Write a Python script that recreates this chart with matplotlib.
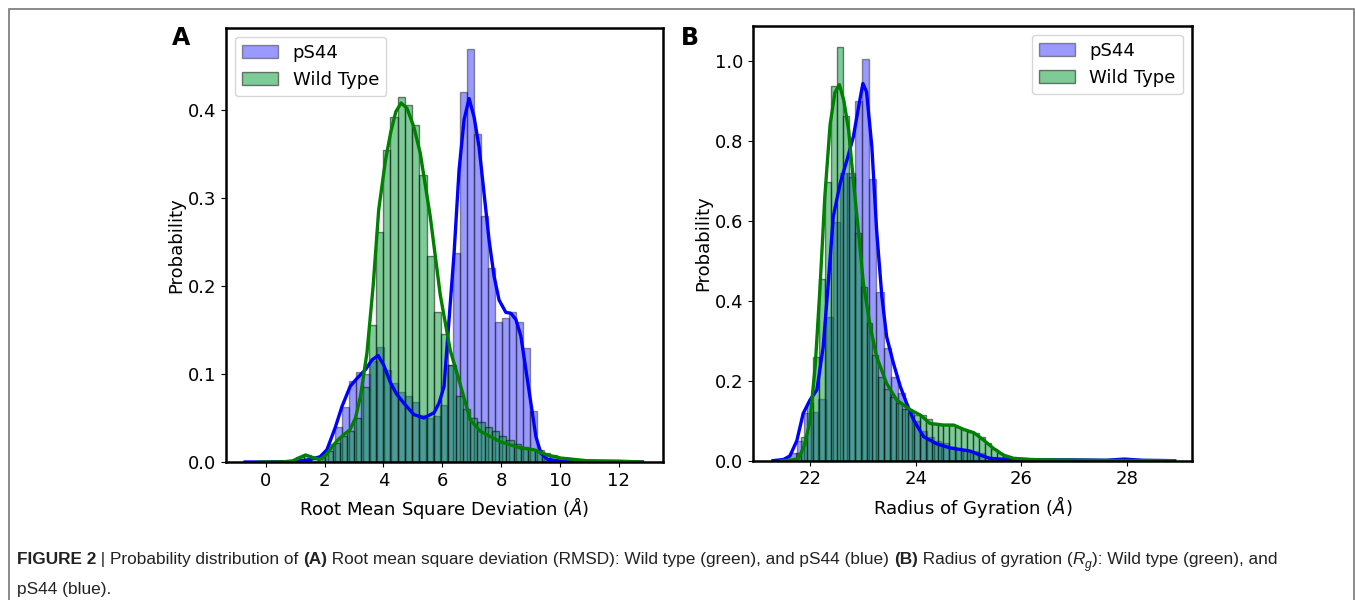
import numpy as np
import matplotlib
matplotlib.use("Agg")
import matplotlib.pyplot as plt
from matplotlib.patches import Rectangle
from matplotlib.text import Annotation

# ---- Panel A: RMSD histograms (density) ----
rmsd_ps44_start, rmsd_ps44_width = 1.896, 0.236
rmsd_ps44_hist = [0.010, 0.020, 0.040, 0.062, 0.092, 0.102, 0.100, 0.115, 0.131, 0.105,
                  0.090, 0.080, 0.075, 0.068, 0.053, 0.050, 0.052, 0.065, 0.110, 0.238,
                  0.420, 0.469, 0.373, 0.279, 0.220, 0.159, 0.164, 0.171, 0.159, 0.129,
                  0.058, 0.014, 0.004, 0.002]
rmsd_wt_start, rmsd_wt_width = 1.04, 0.246
rmsd_wt_hist = [0.006, 0.008, 0.004, 0.005, 0.012, 0.022, 0.030, 0.035, 0.050, 0.085,
                0.156, 0.261, 0.355, 0.392, 0.415, 0.406, 0.383, 0.326, 0.234, 0.170,
                0.145, 0.110, 0.075, 0.060, 0.050, 0.045, 0.040, 0.035, 0.030, 0.025,
                0.020, 0.017, 0.015, 0.014, 0.010, 0.008, 0.005, 0.004, 0.003, 0.002,
                0.0015, 0.001]

# KDE curves
rmsd_ps44_kde_x = [-0.7, 0.0, 0.8, 1.4, 1.85, 2.08, 2.36, 2.59, 2.87, 3.10, 3.39, 3.61, 3.82,
                   4.01, 4.24, 4.45, 4.69, 5.03, 5.375, 5.72, 5.89, 6.06, 6.23, 6.40, 6.57,
                   6.74, 6.91, 7.08, 7.25, 7.42, 7.59, 7.76, 7.93, 8.16, 8.33, 8.50, 8.67,
                   8.84, 9.01, 9.18, 9.35, 9.58, 10.0, 11.0, 12.8]
rmsd_ps44_kde_y = [0, 0, 0.0005, 0.002, 0.006, 0.014, 0.039, 0.063, 0.086, 0.095, 0.105, 0.116,
                   0.121, 0.110, 0.090, 0.077, 0.067, 0.054, 0.050, 0.056, 0.067, 0.086, 0.162,
                   0.237, 0.332, 0.389, 0.413, 0.392, 0.358, 0.305, 0.252, 0.211, 0.184,
                   0.170, 0.169, 0.162, 0.143, 0.105, 0.067, 0.029, 0.010, 0.003, 0.001,
                   0.0005, 0]
rmsd_wt_kde_x = [-0.2, 0.5, 0.9, 1.15, 1.35, 1.6, 1.85, 2.05, 2.25, 2.45, 2.65, 2.87, 3.05,
                 3.22, 3.44, 3.65, 3.84, 4.07, 4.25, 4.42, 4.6, 4.8, 5.03, 5.25, 5.59, 5.93,
                 6.27, 6.61, 6.95, 7.29, 7.97, 8.65, 9.1, 9.56, 10.02, 10.9, 12.0, 12.8]
rmsd_wt_kde_y = [0, 0, 0.001, 0.005, 0.008, 0.005, 0.003, 0.008, 0.017, 0.025, 0.031, 0.037,
                 0.050, 0.075, 0.124, 0.200, 0.287, 0.343, 0.375, 0.398, 0.408, 0.402, 0.381,
                 0.351, 0.279, 0.190, 0.127, 0.088, 0.048, 0.035, 0.023, 0.016, 0.014, 0.008,
                 0.0045, 0.0015, 0.001, 0]

# ---- Panel B: radius of gyration ----
rg_ps44_start, rg_ps44_width = 21.61, 0.137
rg_ps44_hist = [0.02, 0.05, 0.118, 0.122, 0.155, 0.36, 0.597, 0.718, 0.718, 0.899, 1.003,
                0.704, 0.421, 0.281, 0.21, 0.17, 0.13, 0.10, 0.075, 0.06, 0.05, 0.043, 0.035,
                0.03, 0.027, 0.025, 0.02, 0.01, 0.006, 0.004, 0.003, 0.002]
rg_wt_start, rg_wt_width = 21.726, 0.112
rg_wt_hist = [0.02, 0.06, 0.143, 0.26, 0.453, 0.696, 0.9375, 1.035, 0.8625, 0.71, 0.57,
              0.435, 0.343, 0.265, 0.21, 0.18, 0.16, 0.145, 0.13, 0.12, 0.115, 0.115, 0.105,
              0.095, 0.09, 0.092, 0.09, 0.085, 0.078, 0.072, 0.07, 0.06, 0.045, 0.03, 0.02,
              0.012, 0.006, 0.003]

rg_ps44_kde_x = [21.3, 21.5, 21.62, 21.75, 21.87, 22.0, 22.13, 22.25, 22.35, 22.44, 22.57,
                 22.70, 22.82, 22.92, 23.0, 23.07, 23.17, 23.26, 23.36, 23.45, 23.58, 23.71,
                 23.83, 23.96, 24.15, 24.4, 24.65, 25.03, 25.2, 25.4, 25.6, 26.0, 26.5, 27.0,
                 27.6, 27.95, 28.3, 28.9]
rg_ps44_kde_y = [0, 0.003, 0.012, 0.05, 0.118, 0.152, 0.177, 0.285, 0.452, 0.61, 0.693,
                 0.752, 0.81, 0.885, 0.943, 0.922, 0.785, 0.577, 0.41, 0.31, 0.243, 0.185,
                 0.143, 0.102, 0.06, 0.042, 0.032, 0.024, 0.015, 0.006, 0.004, 0.003, 0.002,
                 0.002, 0.001, 0.004, 0.001, 0]
rg_wt_kde_x = [21.45, 21.62, 21.78, 21.9, 22.0, 22.1, 22.19, 22.28, 22.38, 22.47, 22.556,
               22.64, 22.73, 22.82, 22.92, 23.01, 23.14, 23.26, 23.45, 23.64, 23.9, 24.09,
               24.27, 24.53, 24.72, 24.91, 25.1, 25.28, 25.47, 25.66, 25.85, 26.17, 26.5,
               27.1, 27.75, 28.9]
rg_wt_kde_y = [0, 0.001, 0.005, 0.04, 0.10, 0.24, 0.435, 0.66, 0.84, 0.92, 0.94, 0.90,
               0.827, 0.70, 0.568, 0.443, 0.335, 0.26, 0.193, 0.152, 0.127, 0.114, 0.093,
               0.089, 0.089, 0.078, 0.07, 0.052, 0.031, 0.014, 0.006, 0.003, 0.002, 0.001,
               0.0005, 0]

labels = ["pS44", "Wild Type"]

plt.rcParams['font.family'] = 'DejaVu Sans'
plt.rcParams['font.size'] = 13

fig = plt.figure(figsize=(13.55, 6.0), dpi=100)
axA = fig.add_axes([0.1668, 0.230, 0.3225, 0.7238])
axB = fig.add_axes([0.5557, 0.2322, 0.3240, 0.7250])


def draw_panel(ax, p_start, p_width, p_hist, w_start, w_width, w_hist,
               p_kx, p_ky, w_kx, w_ky):
    p_left = p_start + p_width * np.arange(len(p_hist))
    w_left = w_start + w_width * np.arange(len(w_hist))
    ax.bar(p_left, p_hist, width=p_width, align='edge', color='blue', alpha=0.4,
           edgecolor='black', linewidth=1, label=labels[0])
    ax.bar(w_left, w_hist, width=w_width, align='edge', color='#009933', alpha=0.5,
           edgecolor='black', linewidth=1, label=labels[1])
    ax.plot(p_kx, p_ky, color='blue', lw=2.4)
    ax.plot(w_kx, w_ky, color='green', lw=2.4)
    for s in ax.spines.values():
        s.set_linewidth(1.8)
    ax.tick_params(labelsize=13)


draw_panel(axA, rmsd_ps44_start, rmsd_ps44_width, rmsd_ps44_hist,
           rmsd_wt_start, rmsd_wt_width, rmsd_wt_hist,
           rmsd_ps44_kde_x, rmsd_ps44_kde_y, rmsd_wt_kde_x, rmsd_wt_kde_y)
axA.set_xlim(-1.35, 13.5)
axA.set_ylim(0, 0.4935)
axA.set_xticks([0, 2, 4, 6, 8, 10, 12])
axA.set_yticks([0.0, 0.1, 0.2, 0.3, 0.4])
axA.set_xlabel(r"Root Mean Square Deviation ($Å$)", fontsize=13)
axA.set_ylabel("Probability", fontsize=13, labelpad=2)
axA.legend(loc='upper left', fontsize=13)

draw_panel(axB, rg_ps44_start, rg_ps44_width, rg_ps44_hist,
           rg_wt_start, rg_wt_width, rg_wt_hist,
           rg_ps44_kde_x, rg_ps44_kde_y, rg_wt_kde_x, rg_wt_kde_y)
axB.set_xlim(20.92, 29.23)
axB.set_ylim(0, 1.0875)
axB.set_xticks([22, 24, 26, 28])
axB.set_yticks([0.0, 0.2, 0.4, 0.6, 0.8, 1.0])
axB.set_xlabel(r"Radius of Gyration ($Å$)", fontsize=13)
axB.set_ylabel("Probability", fontsize=13, labelpad=2)
axB.legend(loc='upper right', fontsize=13)

fig.text(172 / 1355, 1 - 45 / 600, "A", fontsize=17, fontweight='bold')
fig.text(681 / 1355, 1 - 45 / 600, "B", fontsize=17, fontweight='bold')

# outer frame of the figure panel
fig.add_artist(Rectangle((9 / 1355, -0.1), 1345 / 1355, 1.1 - 8.5 / 600,
                         transform=fig.transFigure, fill=False,
                         edgecolor='#777777', lw=1.2))

# caption, built from pieces
cap_font = ['Liberation Sans Narrow', 'Liberation Sans', 'DejaVu Sans']
cap_size = 12.4
pieces = [("FIGURE 2", 'bold'), (" | ", 'normal'), ("Probability distribution of ", 'normal'),
          ("(A)", 'bold'),
          (" Root mean square deviation (RMSD): Wild type (green), and pS44 (blue) ", 'normal'),
          ("(B)", 'bold'), (" Radius of gyration (", 'normal')]
prev = fig.text(17 / 1355, 1 - 567 / 600, pieces[0][0], fontsize=cap_size,
                fontweight=pieces[0][1], family=cap_font, va='bottom', color='#222222')
for s, w in pieces[1:]:
    a = Annotation(s, xy=(1, 0), xycoords=prev, va='bottom', ha='left',
                   fontsize=cap_size, fontweight=w, family=cap_font, color='#222222')
    fig.add_artist(a)
    prev = a
r = Annotation("R", xy=(1, 0), xycoords=prev, va='bottom', ha='left', fontsize=cap_size,
               style='italic', family=cap_font, color='#222222')
fig.add_artist(r)
g = Annotation("g", xy=(1, 0), xycoords=r, xytext=(0, -3), textcoords='offset points',
               va='bottom', ha='left', fontsize=cap_size * 0.7, style='italic',
               family=cap_font, color='#222222')
fig.add_artist(g)
rest = Annotation("): Wild type (green), and", xy=(1, 0), xycoords=g, xytext=(0, 3),
                  textcoords='offset points', va='bottom', ha='left', fontsize=cap_size,
                  family=cap_font, color='#222222')
fig.add_artist(rest)
fig.text(17 / 1355, 1 - 597 / 600, "pS44 (blue).", fontsize=cap_size, family=cap_font,
         va='bottom', color='#222222')

fig.savefig("out.png", dpi=100)
